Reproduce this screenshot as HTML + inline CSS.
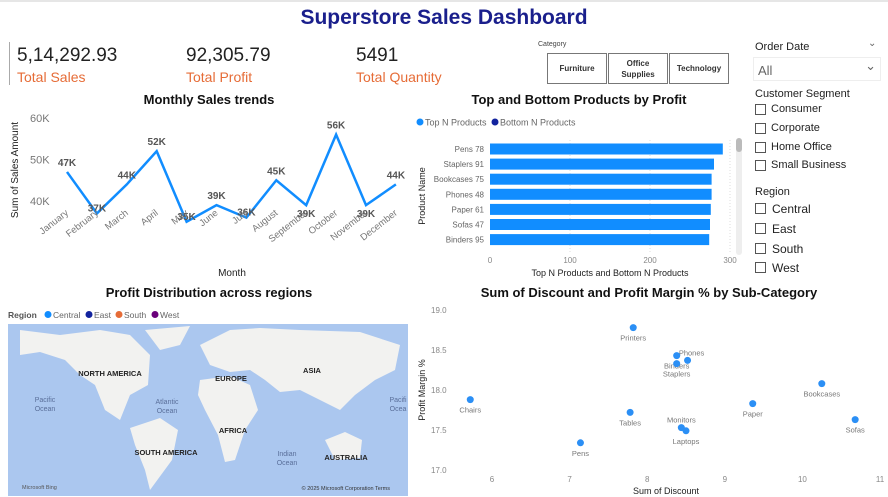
<!DOCTYPE html>
<html><head><meta charset="utf-8">
<style>
*{margin:0;padding:0;box-sizing:border-box}
body{width:888px;height:497px;background:#fff;font-family:"Liberation Sans",sans-serif;position:relative;overflow:hidden}
.abs{position:absolute}
.title{font-size:14px;font-weight:bold;color:#111;text-align:center}
.kv{font-size:19px;color:#222}
.kl{font-size:14px;color:#e66c37}
.cb{position:absolute;width:11px;height:11px;border:1px solid #555;background:#fff}
.sl{font-size:11px;color:#222}
.btn{position:absolute;border:1px solid #777;background:#fff;font-size:8px;font-weight:bold;color:#333;display:flex;align-items:center;justify-content:center;text-align:center;line-height:11px}
</style></head><body>
<div class="abs" style="left:0;top:0;width:888px;height:2px;background:#e6e6e6"></div>
<div class="abs" style="left:0;top:6px;width:888px;text-align:center;font-size:21px;font-weight:bold;color:#1a1f8c">Superstore Sales Dashboard</div>
<div class="abs" style="left:9px;top:42px;width:1px;height:43px;background:#aaa"></div>
<div class="abs kv" style="left:17px;top:45px">5,14,292.93</div>
<div class="abs kl" style="left:17px;top:69px">Total Sales</div>
<div class="abs kv" style="left:186px;top:45px">92,305.79</div>
<div class="abs kl" style="left:186px;top:69px">Total Profit</div>
<div class="abs kv" style="left:356px;top:45px">5491</div>
<div class="abs kl" style="left:356px;top:69px">Total Quantity</div>

<div class="abs" style="left:538px;top:41px;font-size:7px;color:#444">Category</div>
<div class="btn" style="left:547px;top:53px;width:60px;height:31px">Furniture</div>
<div class="btn" style="left:608px;top:53px;width:60px;height:31px">Office<br>Supplies</div>
<div class="btn" style="left:669px;top:53px;width:60px;height:31px">Technology</div>

<div class="abs sl" style="left:755px;top:41px">Order Date</div>
<div class="abs" style="left:868px;top:38px;font-size:10px;color:#666">&#8964;</div>
<div class="abs" style="left:753px;top:57px;width:128px;height:24px;border:1px solid #eee;font-size:13px;color:#666;padding:5px 4px">All<span style="position:absolute;right:4px;top:0px;font-size:13px">&#8964;</span></div>
<div class="abs sl" style="left:755px;top:88px">Customer Segment</div>
<div class="cb" style="left:755px;top:104px"></div><div class="abs sl" style="left:771px;top:103px">Consumer</div>
<div class="cb" style="left:755px;top:123px"></div><div class="abs sl" style="left:771px;top:122px">Corporate</div>
<div class="cb" style="left:755px;top:142px"></div><div class="abs sl" style="left:771px;top:141px">Home Office</div>
<div class="cb" style="left:755px;top:160px"></div><div class="abs sl" style="left:771px;top:159px">Small Business</div>
<div class="abs sl" style="left:755px;top:186px">Region</div>
<div class="cb" style="left:755px;top:203px"></div><div class="abs sl" style="left:772px;top:202px;font-size:12px">Central</div>
<div class="cb" style="left:755px;top:223px"></div><div class="abs sl" style="left:772px;top:222px;font-size:12px">East</div>
<div class="cb" style="left:755px;top:243px"></div><div class="abs sl" style="left:772px;top:242px;font-size:12px">South</div>
<div class="cb" style="left:755px;top:262px"></div><div class="abs sl" style="left:772px;top:261px;font-size:12px">West</div>

<svg class="abs" style="left:0;top:0" width="888" height="497" id="svg" font-family="Liberation Sans, sans-serif">
<text x="209" y="104" text-anchor="middle" font-size="13" font-weight="bold" fill="#111">Monthly Sales trends</text>
<text x="579" y="104" text-anchor="middle" font-size="13" font-weight="bold" fill="#111">Top and Bottom Products by Profit</text>
<text x="209" y="297" text-anchor="middle" font-size="13" font-weight="bold" fill="#111">Profit Distribution across regions</text>
<text x="649" y="297" text-anchor="middle" font-size="13" font-weight="bold" fill="#111">Sum of Discount and Profit Margin % by Sub-Category</text>
<g id="line"></g><g id="bar"></g><g id="map"></g><g id="scatter"></g>
</svg>
<script>
const months=["January","February","March","April","May","June","July","August","September","October","November","December"];
const sales=[47,37,44,52,35,39,36,45,39,56,39,44];
const yTicks=[40,50,60];
const products=["Pens 78","Staplers 91","Bookcases 75","Phones 48","Paper 61","Sofas 47","Binders 95"];
const profits=[291,280,277,277,276,275,274];
const barTicks=[0,100,200,300];
const subCats=["Printers","Phones","Binders","Staplers","Bookcases","Chairs","Tables","Paper","Monitors","Laptops","Pens","Sofas"];
const discounts=[7.82,8.52,8.38,8.38,10.25,5.72,7.78,9.36,8.44,8.50,7.14,10.68];
const margins=[18.78,18.37,18.43,18.33,18.08,17.88,17.72,17.83,17.53,17.49,17.34,17.63];
const scXTicks=[6,7,8,9,10,11];
const scYTicks=["17.0","17.5","18.0","18.5","19.0"];
const labelAbove=["Phones","Monitors"];

const NS="http://www.w3.org/2000/svg";
function mk(p,t,a,txt){const e=document.createElementNS(NS,t);for(const k in a)e.setAttribute(k,a[k]);if(txt!==undefined)e.textContent=txt;p.appendChild(e);return e;}

// line chart
const L=document.getElementById('line');
const lx=i=>67+i*29.9, ly=v=>201-(v-40)*4.15;
yTicks.forEach(t=>{const e=mk(L,'text',{x:30,y:ly(t)+4,'font-size':11,fill:'#777'},t+'K');

});
const ly2=mk(L,'text',{transform:'translate(18,170) rotate(-90)','text-anchor':'middle','font-size':10,fill:'#222'},'Sum of Sales Amount');


const lxt=mk(L,'text',{x:232,y:276,'text-anchor':'middle','font-size':10,fill:'#222'},'Month');


const path=mk(L,'polyline',{points:sales.map((v,i)=>lx(i)+','+ly(v)).join(' '),fill:'none',stroke:'#118dff','stroke-width':2.5,'stroke-linejoin':'miter'});


sales.forEach((v,i)=>{
 const prev=i>0?sales[i-1]:v,next=i<11?sales[i+1]:v;
 const low=v<=prev&&v<=next&&i>0;
 const t=mk(L,'text',{x:lx(i),y:low?ly(v)-(i==1||i==4||i==6?2:-12):ly(v)-6,'text-anchor':'middle','font-size':10,'font-weight':'bold',fill:'#555'},v+'K');
 
 
 const m=mk(L,'text',{transform:`translate(${lx(i)+2},${214}) rotate(-38)`,'text-anchor':'end','font-size':9.5,fill:'#777'},months[i]);
 
 
});

// bar chart
const B=document.getElementById('bar');
const bx=v=>490+v*0.8;
[['#118dff','Top N Products',417],['#12239e','Bottom N Products',492]].forEach(([c,n,x])=>{
 const d=mk(B,'circle',{cx:x+3,cy:122,r:3.5,fill:c});
 
 
 const t=mk(B,'text',{x:x+8,y:125.5,'font-size':9,fill:'#666'},n);
 
 
});
barTicks.forEach(t=>{
 if(t>0){const g=mk(B,'line',{x1:bx(t),x2:bx(t),y1:140,y2:253,stroke:'#ddd','stroke-dasharray':'1,2'});
 
 }
 const e=mk(B,'text',{x:bx(t),y:263,'text-anchor':'middle','font-size':8,fill:'#888'},t);
 
 
});
products.forEach((p,i)=>{
 const cy=149+i*15.1;
 const r=mk(B,'rect',{x:bx(0),y:cy-5.5,width:bx(profits[i])-bx(0),height:11,fill:'#118dff'});
 
 
 const t=mk(B,'text',{x:484,y:cy+3,'text-anchor':'end','font-size':8,fill:'#666'},p);
 
 
});
const bt=mk(B,'text',{transform:'translate(425,196) rotate(-90)','text-anchor':'middle','font-size':9,fill:'#222'},'Product Name');


const bxt=mk(B,'text',{x:610,y:276,'text-anchor':'middle','font-size':9,fill:'#222'},'Top N Products and Bottom N Products');


const sb=mk(B,'rect',{x:736,y:138,width:6,height:117,rx:3,fill:'#eee'});


const sbt=mk(B,'rect',{x:736,y:138,width:6,height:14,rx:3,fill:'#bbb'});



// map
const M=document.getElementById('map');
[['Region',8,'#555',null],['Central',45,'#666','#118dff'],['East',86,'#666','#12239e'],['South',116,'#666','#e66c37'],['West',152,'#666','#6b007b']].forEach(([n,x,c,dc])=>{
 if(dc){const d=mk(M,'circle',{cx:x+3,cy:314.5,r:3.5,fill:dc});}
 const t=mk(M,'text',{x:dc?x+8:x,y:318,'font-size':8.5,fill:c,'font-weight':dc?'normal':'bold'},n);
 
 
});
const ocean=mk(M,'rect',{x:8,y:324,width:400,height:172,fill:'#abc7ef'});


const lands=[
 "M20,330 L60,335 L100,330 L130,335 L150,355 L148,385 L130,395 L120,420 L105,410 L95,385 L80,375 L65,360 L40,352 L20,355 Z",
 "M145,330 L190,326 L180,345 L160,350 Z",
 "M130,428 L160,418 L178,430 L172,460 L150,490 L145,470 L135,445 Z",
 "M200,345 L230,330 L260,328 L300,330 L360,332 L400,345 L395,370 L375,380 L355,395 L340,410 L320,400 L300,390 L280,392 L265,380 L250,370 L230,372 L210,365 Z",
 "M200,380 L230,376 L250,385 L258,410 L245,430 L235,460 L225,462 L218,435 L205,410 L198,395 Z",
 "M325,440 L345,432 L362,440 L360,458 L335,460 Z"];
lands.forEach(d=>{const p=mk(M,'path',{d,fill:'#f2f2f0'});});
[['NORTH AMERICA',110,376,1],['EUROPE',231,381,1],['ASIA',312,373,1],['AFRICA',233,433,1],['SOUTH AMERICA',166,455,1],['AUSTRALIA',346,460,1]].forEach(([n,x,y])=>{
 const t=mk(M,'text',{x,y,'text-anchor':'middle','font-size':7.5,'font-weight':'bold',fill:'#222'},n);
 
 
});
[['Pacific',45,402],['Ocean',45,411],['Atlantic',167,404],['Ocean',167,413],['Indian',287,456],['Ocean',287,465],['Pacifi',398,402],['Ocea',398,411]].forEach(([n,x,y])=>{
 const t=mk(M,'text',{x,y,'text-anchor':'middle','font-size':7,fill:'#5a6f9a'},n);
 
 
});
const bing=mk(M,'text',{x:22,y:489,'font-size':5.5,fill:'#555'},'Microsoft Bing');


const cp=mk(M,'text',{x:390,y:490,'text-anchor':'end','font-size':5.5,fill:'#333'},'© 2025 Microsoft Corporation  Terms');



// scatter
const S=document.getElementById('scatter');
const sx=v=>492+(v-6)*77.6, sy=v=>470-(v-17)*80;
scXTicks.forEach(t=>{const e=mk(S,'text',{x:sx(t),y:482,'text-anchor':'middle','font-size':8,fill:'#888'},t);

});
scYTicks.forEach(t=>{const e=mk(S,'text',{x:431,y:sy(+t)+3,'font-size':8,fill:'#888'},t);

});
const syt=mk(S,'text',{transform:'translate(425,390) rotate(-90)','text-anchor':'middle','font-size':9,fill:'#222'},'Profit Margin %');


const sxt=mk(S,'text',{x:666,y:494,'text-anchor':'middle','font-size':9,fill:'#222'},'Sum of Discount');


subCats.forEach((n,i)=>{
 const c=mk(S,'circle',{cx:sx(discounts[i]),cy:sy(margins[i]),r:3.5,fill:'#2b8ff5'});
 
 
 const ab=labelAbove.includes(n);
 const t=mk(S,'text',{x:sx(discounts[i])+(n=='Phones'?4:0),y:sy(margins[i])+(ab?-5:13),'text-anchor':'middle','font-size':7.5,fill:'#777'},n);
 
 
});
</script>
</body></html>
